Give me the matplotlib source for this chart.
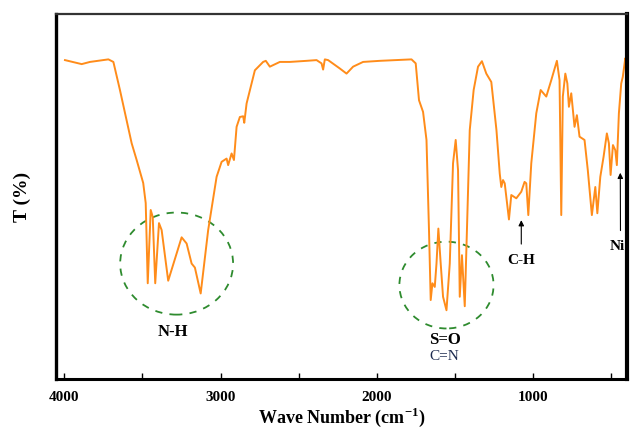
import numpy as np
import matplotlib.pyplot as plt
from matplotlib.patches import Ellipse

# FTIR spectrum (wave number in cm-1, transmittance in arbitrary %)
wavenumber = [3996, 3889, 3836, 3718, 3686, 3644, 3569, 3537, 3495, 3479,
              3466, 3447, 3434, 3418, 3394, 3377, 3335, 3249, 3217, 3185,
              3164, 3127, 3079, 3025, 2993, 2961, 2951, 2929, 2914, 2897,
              2876, 2855, 2848, 2833, 2801, 2780, 2727, 2710, 2684, 2620,
              2556, 2449, 2385, 2353, 2343, 2332, 2311, 2236, 2193, 2151,
              2087, 1980, 1777, 1750, 1729, 1703, 1681, 1665, 1654, 1643,
              1628, 1617, 1605, 1590, 1575, 1553, 1532, 1511, 1494, 1479,
              1468, 1454, 1436, 1422, 1404, 1379, 1351, 1326, 1298, 1266,
              1233, 1212, 1202, 1191, 1180, 1153, 1138, 1106, 1074, 1053,
              1042, 1029, 1010, 978, 950, 914, 882, 846, 829, 818,
              808, 792, 779, 769, 754, 733, 718, 701, 669, 648,
              622, 600, 587, 568, 547, 526, 513, 502, 487, 472,
              462, 449, 434, 424, 408, 402]
transmittance = [87.4, 86.3, 86.9, 87.6, 86.9, 79.2, 64.6, 60.0, 53.7, 48.2,
                 26.2, 46.3, 44.4, 26.2, 42.7, 40.8, 26.9, 38.8, 37.1, 31.6,
                 30.5, 23.4, 40.8, 55.4, 59.5, 60.4, 58.6, 61.8, 60.0, 69.1,
                 71.8, 72.0, 70.2, 75.5, 81.0, 84.6, 86.9, 87.2, 85.6, 86.9,
                 86.9, 87.2, 87.4, 86.5, 84.8, 87.6, 87.4, 85.1, 83.7, 85.6,
                 86.9, 87.2, 87.6, 86.5, 76.4, 73.2, 65.5, 40.8, 21.6, 26.2,
                 25.2, 31.6, 41.2, 31.6, 22.5, 18.8, 31.6, 59.1, 65.5, 57.2,
                 22.5, 33.9, 19.9, 40.8, 68.2, 79.2, 85.6, 87.1, 83.7, 81.4,
                 68.2, 56.3, 52.6, 54.5, 53.6, 43.7, 50.4, 49.5, 51.3, 54.0,
                 53.6, 44.9, 59.1, 72.8, 79.2, 77.4, 81.9, 87.2, 81.9, 44.9,
                 77.4, 83.7, 81.0, 74.6, 78.3, 69.1, 72.3, 66.4, 65.5, 57.2,
                 44.9, 52.6, 45.4, 55.4, 60.9, 67.3, 64.6, 55.9, 64.1, 62.7,
                 58.6, 72.8, 81.0, 82.8, 87.9, 86.5]

tick_positions = [4000, 3500, 3000, 2500, 2000, 1500, 1000, 500]
tick_labels = ['4000', '', '3000', '', '2000', '', '1000', '']

plt.rcParams['font.family'] = ['Liberation Serif', 'DejaVu Serif']
plt.rcParams['mathtext.fontset'] = 'custom'
plt.rcParams['mathtext.rm'] = 'Liberation Serif'
plt.rcParams['mathtext.bf'] = 'Liberation Serif:bold'

fig = plt.figure(figsize=(6.3, 4.29), dpi=100)
ax = fig.add_axes([0.089, 0.117, 0.906, 0.850])

ax.plot(wavenumber, transmittance, color='#ff8c1a', lw=1.4)

ax.set_xlim(4053, 398)
ax.set_ylim(0, 100)
ax.set_xticks(tick_positions)
ax.set_xticklabels(tick_labels, fontweight='bold', fontsize=11)
ax.set_yticks([])
ax.tick_params(axis='x', direction='in', length=4, width=1, pad=9)

for side, w, c in [('left', 2.4, 'black'), ('bottom', 2.2, 'black'),
                   ('right', 3.0, 'black'), ('top', 1.6, '#333333')]:
    ax.spines[side].set_linewidth(w)
    ax.spines[side].set_color(c)

ax.set_xlabel(r'Wave Number (cm$^{\mathbf{-1}}$)', fontsize=13, fontweight='bold', labelpad=1)
ax.set_ylabel('T (%)', fontsize=14, fontweight='bold', labelpad=18)

# dashed circles around band groups
green = '#2e8b2e'
ax.add_patch(Ellipse((3281, 31.6), 723, 28.0, fill=False, ec=green,
                     lw=1.3, ls=(0, (4, 4))))
ax.add_patch(Ellipse((1553, 25.7), 603, 23.8, fill=False, ec=green,
                     lw=1.3, ls=(0, (4, 4))))

ax.text(3302, 12.9, 'N-H', fontsize=12, fontweight='bold', ha='center', va='center')
ax.text(1564, 10.6, 'S=O', fontsize=12, fontweight='bold', ha='center', va='center')
ax.text(1568, 6.0, 'C=N', fontsize=11, color='#1c2a4f', ha='center', va='center')

ax.annotate('C-H', xy=(1074, 43.5), xytext=(1074, 32.5), fontsize=11,
            fontweight='bold', ha='center', va='center',
            arrowprops=dict(arrowstyle='-|>', color='black', lw=0.8,
                            shrinkA=5, shrinkB=0, mutation_scale=8))
ax.annotate('Ni', xy=(440, 56.5), xytext=(458, 36.2), fontsize=11,
            fontweight='bold', ha='center', va='center',
            arrowprops=dict(arrowstyle='-|>', color='black', lw=0.8,
                            shrinkA=5, shrinkB=0, mutation_scale=8,
                            relpos=(0.7, 1.0)))

fig.savefig('out.png', dpi=100)
